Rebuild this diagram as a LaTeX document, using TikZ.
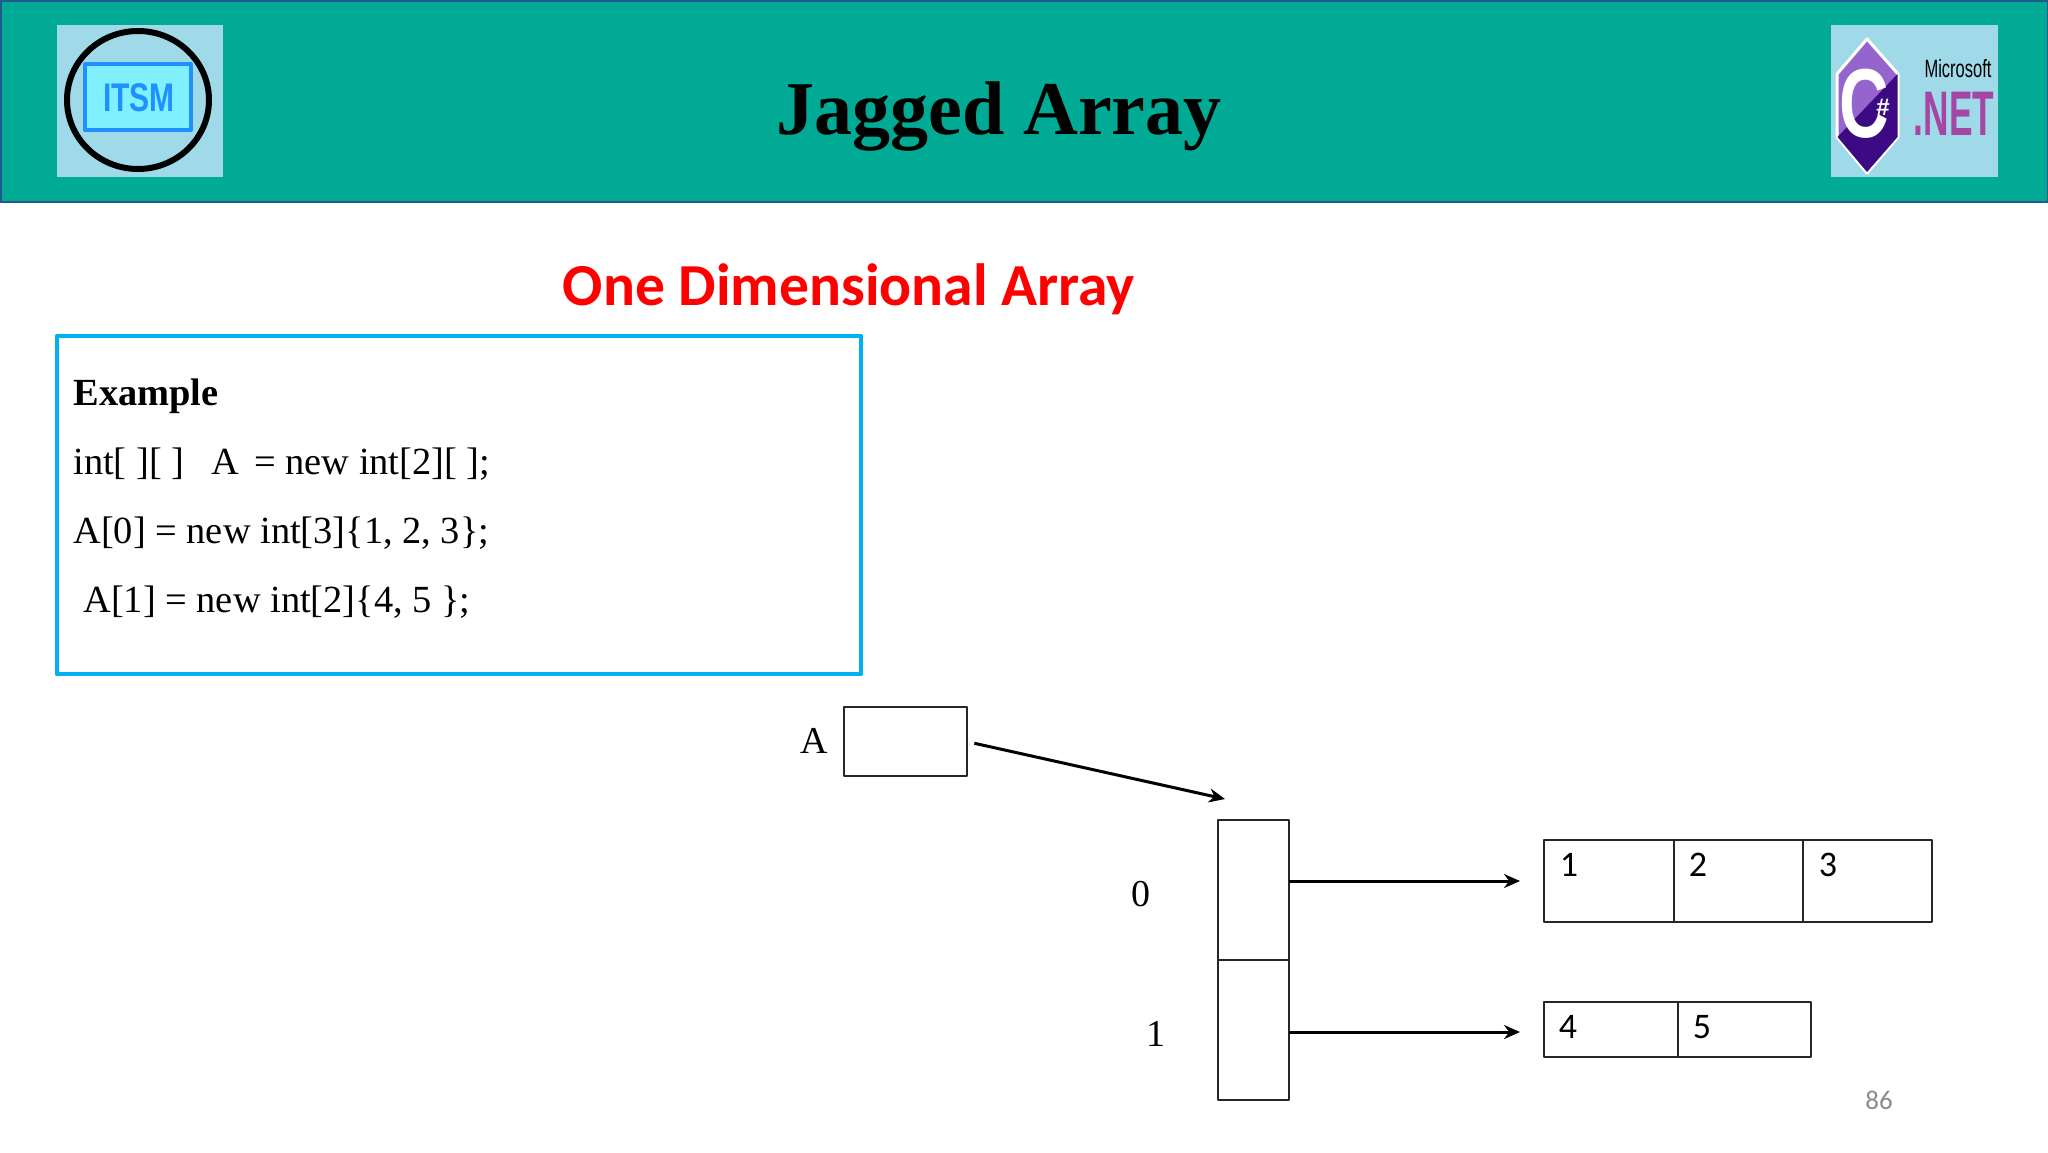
\documentclass[tikz,border=0pt]{standalone}
\usepackage{fontspec}
\setmainfont{Liberation Serif}
\newfontfamily\carlito{Carlito}
\newfontfamily\arial{Liberation Sans}
\usetikzlibrary{arrows.meta}
\definecolor{bannerteal}{RGB}{0,170,148}
\definecolor{bannerline}{RGB}{31,91,140}
\definecolor{logobg}{RGB}{160,218,232}
\definecolor{codeblue}{RGB}{0,176,240}
\definecolor{itsmblue}{RGB}{30,144,255}
\definecolor{itsmfill}{RGB}{128,240,255}
\definecolor{csharplight}{RGB}{150,100,205}
\definecolor{csharpdark}{RGB}{60,10,130}
\definecolor{netpurple}{RGB}{165,70,165}
\tikzset{
	cell/.style={draw=black!85,line width=1pt,inner sep=0pt,outer sep=0pt,anchor=north west},
	pointer/.style={-{Stealth[length=8pt,width=7pt]},line width=1.5pt},
	codeline/.style={inner sep=0pt,anchor=base west,font=\fontsize{19.2}{21}\selectfont},
	indexlabel/.style={inner sep=0pt,font=\fontsize{19}{20}\selectfont},
	cellnum/.style={inner sep=0pt,font=\carlito\fontsize{18}{20}\selectfont}
}
\begin{document}
\begin{tikzpicture}[x=0.5pt,y=-0.5pt,line join=round]
	\useasboundingbox (0,0) rectangle (2048,1152);
	\fill[white] (0,0) rectangle (2048,1152);
	% banner
	\draw[fill=bannerteal,draw=bannerline,line width=1pt] (0.5,0.5) rectangle (2047.5,202);
	\node[inner sep=0pt,anchor=base,font=\bfseries\fontsize{38}{40}\selectfont] (title) at (999,134) {Jagged Array};
	% left logo
	\fill[logobg] (57,25) rectangle (223,177);
	\draw[line width=3pt] (138,100) ellipse (35.5pt and 34.5pt);
	\draw[fill=itsmfill,draw=itsmblue,line width=2pt] (85,64) rectangle (191,130);
	\node[inner sep=0pt,xscale=0.75,transform shape,text=itsmblue,font=\arial\bfseries\fontsize{20}{20}\selectfont] (itsm) at (139,97.5) {ITSM};
	% right logo
	\fill[logobg] (1831,25) rectangle (1998,177);
	\draw[fill=csharplight,draw=white,line width=1.5pt] (1867,39) -- (1898,74) -- (1898,137) -- (1867,173) -- (1837,137) -- (1837,74) -- cycle;
	\fill[csharpdark] (1897.5,74) -- (1897.5,137) -- (1867,172) -- (1837.5,137) -- cycle;
	\node[inner sep=0pt,text=white,xscale=0.7,transform shape,font=\arial\bfseries\fontsize{49}{49}\selectfont] (csharp) at (1864,104) {C};
	\node[inner sep=0pt,text=white,font=\arial\bfseries\fontsize{12}{12}\selectfont] (sharp) at (1883,107) {\#};
	\node[inner sep=0pt,xscale=0.66,transform shape,font=\arial\fontsize{12.5}{14}\selectfont] (microsoft) at (1958,69) {Microsoft};
	\node[inner sep=0pt,xscale=0.56,transform shape,text=netpurple,font=\arial\bfseries\fontsize{31.5}{32}\selectfont] (net) at (1954,114) {.NET};
	% heading and code
	\node[inner sep=0pt,anchor=base,text=red,font=\carlito\bfseries\fontsize{29.8}{30}\selectfont] (heading) at (849,305) {One Dimensional Array};
	\draw[draw=codeblue,line width=2.4pt] (57,336) rectangle (861,674);
	\node[codeline,font=\bfseries\fontsize{19.2}{21}\selectfont] (line0) at (73,405) {Example};
	\node[codeline] (line1) at (73,474) {int[ ][ ]\ \ \hspace{0.2em}A\hspace{0.4em}= new int[2][ ];};
	\node[codeline] (line2) at (73,543) {A[0] = new int[3]\{1, 2, 3\};};
	\node[codeline] (line3) at (83,612) {A[1] = new int[2]\{4, 5 \};};
	% reference A
	\node[cell,minimum width=61.5pt,minimum height=34.5pt] (boxA) at (843.5,707) {};
	\node[indexlabel] (nameA) at (814,741) {A};
	\coordinate (tipA) at (1225,799);
	\draw[pointer,shorten <=4pt] (boxA.east) -- (tipA);
	% outer array
	\node[cell,minimum width=35.5pt,minimum height=70pt] (outer0) at (1218,820) {};
	\node[cell,minimum width=35.5pt,minimum height=70pt] (outer1) at (1218,960) {};
	\node[indexlabel] (idx0) at (1141,894) {0};
	\node[indexlabel] (idx1) at (1156,1034) {1};
	% inner arrays
	\node[cell,minimum width=65pt,minimum height=41pt] (c1) at (1544,840) {};
	\node[cell,minimum width=64.5pt,minimum height=41pt] (c2) at (1673.5,840) {};
	\node[cell,minimum width=64.5pt,minimum height=41pt] (c3) at (1802.5,840) {};
	\node[cell,minimum width=67pt,minimum height=27.5pt] (c4) at (1544,1002) {};
	\node[cell,minimum width=66.5pt,minimum height=27.5pt] (c5) at (1677.5,1002) {};
	\node[cellnum] (n1) at (1569,865) {1};
	\node[cellnum] (n2) at (1698,865) {2};
	\node[cellnum] (n3) at (1828,865) {3};
	\node[cellnum] (n4) at (1568,1027) {4};
	\node[cellnum] (n5) at (1702,1027) {5};
	\coordinate (tip0) at (1520,881);
	\coordinate (tip1) at (1520,1032);
	\draw[pointer] (tip0 -| outer0.east) -- (tip0);
	\draw[pointer] (tip1 -| outer1.east) -- (tip1);
	\node[inner sep=0pt,text=black!45,font=\carlito\fontsize{13.5}{14}\selectfont] (page) at (1879,1100) {86};
\end{tikzpicture}
\end{document}
